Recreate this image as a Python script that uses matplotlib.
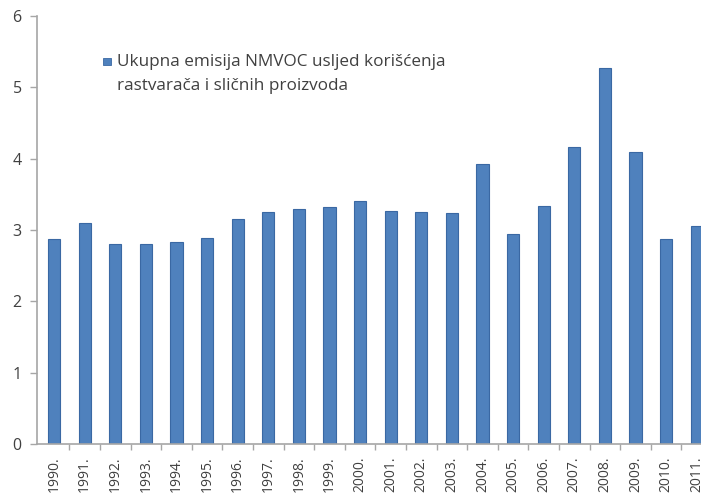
import matplotlib.pyplot as plt
from matplotlib.patches import Rectangle
import numpy as np

plt.rcParams['font.family'] = ['Open Sans', 'DejaVu Sans']

# NMVOC emissions from solvent use, per year
years = ['1990.', '1991.', '1992.', '1993.', '1994.', '1995.', '1996.', '1997.',
         '1998.', '1999.', '2000.', '2001.', '2002.', '2003.', '2004.', '2005.',
         '2006.', '2007.', '2008.', '2009.', '2010.', '2011.']
emisija = [2.87, 3.10, 2.81, 2.81, 2.83, 2.89, 3.15, 3.25, 3.30, 3.32, 3.40,
           3.27, 3.25, 3.24, 3.93, 2.95, 3.34, 4.17, 5.27, 4.10, 2.88, 3.06]
legend_label = 'Ukupna emisija NMVOC usljed korišćenja\nrastvarača i sličnih proizvoda'

bar_color = '#4f81bd'
edge_color = '#3a68a3'
axis_color = '#a6a6a6'
text_color = '#404040'

W, H = 701, 496
fig = plt.figure(figsize=(W / 100, H / 100), dpi=100)
x = np.arange(len(years))
xmin, xmax = -0.56, 21.5
step = 30.6  # px per category
ax = fig.add_axes([37 / W, (H - 444) / H, (xmax - xmin) * step / W, (444 - 16) / H])

ax.bar(x, emisija, width=0.4, color=bar_color, edgecolor=edge_color, linewidth=0.8)

ax.set_xlim(xmin, xmax)
ax.set_ylim(0, 6)
ax.set_yticks(range(0, 7))
ax.set_xticks(x)
ax.set_xticklabels(years, rotation=90, fontsize=10, color=text_color)
ax.set_xticks(x[:-1] + 0.5, minor=True)
ax.tick_params(axis='x', which='major', length=0, pad=9)
ax.tick_params(axis='x', which='minor', length=4, color=axis_color, width=1)
ax.tick_params(axis='y', length=5, color=axis_color, width=1, pad=6,
               labelsize=11.5, labelcolor=text_color)

for side in ['top', 'right']:
    ax.spines[side].set_visible(False)
for side in ['left', 'bottom']:
    ax.spines[side].set_color(axis_color)
    ax.spines[side].set_linewidth(1.2)

# legend drawn by hand: square key + two-line label
fig.patches.append(Rectangle((103 / W, 1 - 65 / H), 8 / W, 7 / H,
                             transform=fig.transFigure, facecolor=bar_color,
                             edgecolor=edge_color, linewidth=0.6))
fig.text(117 / W, 1 - 54 / H, legend_label, fontsize=12.3, color=text_color,
         va='top', ha='left', linespacing=1.7)

fig.savefig('out.png', dpi=100)
